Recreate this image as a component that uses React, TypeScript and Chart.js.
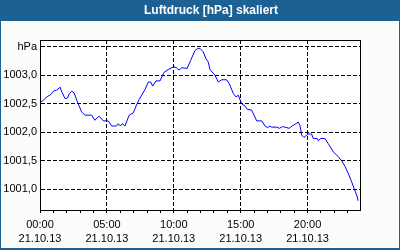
import React, { useEffect, useRef } from "react";
import { Chart, registerables } from "chart.js";

Chart.register(...registerables);

const TITLE = "Luftdruck [hPa] skaliert";
const DATE_LABEL = "21.10.13";

// time in hours since 00:00 on 21.10.13
const hours = [
  0.0, 0.25, 0.5, 0.8, 1.0, 1.25, 1.5, 1.65, 1.87, 2.05, 2.2, 2.37, 2.55, 2.8, 3.0, 3.1, 3.36, 3.86,
  4.1, 4.3, 4.43, 4.73, 5.1, 5.36, 5.73, 5.85, 6.0, 6.15, 6.35, 6.5, 6.67, 6.97, 7.22, 7.4, 7.6,
  7.85, 8.1, 8.27, 8.42, 8.67, 8.97, 9.27, 9.59, 10.0, 10.2, 10.39, 10.59, 11.0, 11.26, 11.58, 11.8,
  11.96, 12.2, 12.4, 12.58, 12.7, 13.08, 13.33, 13.58, 13.95, 14.15, 14.45, 14.65, 14.82, 15.07,
  15.32, 15.5, 15.82, 16.2, 16.57, 16.82, 17.0, 17.19, 17.3, 17.69, 17.89, 18.14, 18.3, 18.63,
  18.85, 19.06, 19.3, 19.43, 19.56, 19.73, 20.05, 20.3, 20.43, 20.73, 20.8, 20.98, 21.3, 21.55,
  21.92, 22.3, 22.55, 22.8, 23.04, 23.3, 23.47, 23.67, 23.79,
];

const pressure = [
  1002.52, 1002.56, 1002.62, 1002.66, 1002.72, 1002.74, 1002.79, 1002.7, 1002.59, 1002.6, 1002.68,
  1002.72, 1002.69, 1002.53, 1002.42, 1002.36, 1002.3, 1002.3, 1002.21, 1002.26, 1002.28, 1002.2,
  1002.2, 1002.11, 1002.11, 1002.15, 1002.11, 1002.15, 1002.11, 1002.2, 1002.3, 1002.34, 1002.48,
  1002.57, 1002.65, 1002.75, 1002.88, 1002.88, 1002.81, 1002.9, 1002.9, 1003.05, 1003.1, 1003.15,
  1003.13, 1003.09, 1003.13, 1003.12, 1003.26, 1003.43, 1003.47, 1003.47, 1003.41, 1003.29,
  1003.23, 1003.1, 1003.0, 1002.88, 1002.92, 1002.92, 1002.85, 1002.68, 1002.62, 1002.65, 1002.5,
  1002.46, 1002.4, 1002.39, 1002.2, 1002.2, 1002.11, 1002.08, 1002.11, 1002.09, 1002.09, 1002.07,
  1002.1, 1002.09, 1002.07, 1002.11, 1002.14, 1002.18, 1002.12, 1001.95, 1001.91, 1001.97,
  1001.97, 1001.89, 1001.89, 1001.85, 1001.89, 1001.89, 1001.8, 1001.66, 1001.57, 1001.5, 1001.4,
  1001.28, 1001.13, 1001.02, 1000.9, 1000.8,
];

const xMajorHours = [0, 5, 10, 15, 20];
const xMajorLabels = ["00:00", "05:00", "10:00", "15:00", "20:00"];
const xMinorHours = [
  0, 1, 2, 3, 4, 5, 6, 7, 8, 9, 10, 11, 12, 13, 14, 15, 16, 17, 18, 19, 20, 21, 22, 23,
];
const yTickValues = [1001.0, 1001.5, 1002.0, 1002.5, 1003.0, 1003.5];
const yTickLabels = ["1001,0", "1001,5", "1002,0", "1002,5", "1003,0", "hPa"];

const X_MIN = 0;
const X_MAX = 23.92;
const Y_MIN = 1000.638;
const Y_MAX = 1003.617;

const FONT = "'Liberation Sans', Arial, sans-serif";

const framePlugin = {
  id: "frame",
  beforeDraw(chart: any) {
    const { ctx, width, height, chartArea } = chart;
    ctx.save();
    ctx.fillStyle = "#1c6094";
    ctx.fillRect(0, 0, width, height);
    ctx.fillStyle = "#fbfdfb";
    ctx.fillRect(1, 21, width - 2, height - 23);
    ctx.fillStyle = "#ffffff";
    ctx.fillRect(chartArea.left, chartArea.top, chartArea.right - chartArea.left, chartArea.bottom - chartArea.top);
    ctx.fillStyle = "#ffffff";
    ctx.font = `bold 12px ${FONT}`;
    ctx.textAlign = "center";
    ctx.textBaseline = "middle";
    ctx.fillText(TITLE, 211, 10.5);
    ctx.restore();
  },
  afterDraw(chart: any) {
    const { ctx, chartArea } = chart;
    ctx.save();
    ctx.strokeStyle = "#000000";
    ctx.lineWidth = 1;
    ctx.setLineDash([]);
    ctx.strokeRect(
      Math.round(chartArea.left) + 0.5,
      Math.round(chartArea.top) + 0.5,
      Math.round(chartArea.right - chartArea.left),
      Math.round(chartArea.bottom - chartArea.top)
    );
    ctx.restore();
  },
};

export default function App() {
  const ref = useRef<HTMLCanvasElement | null>(null);

  useEffect(() => {
    if (!ref.current) return;
    const chart = new Chart(ref.current, {
      type: "line",
      data: {
        datasets: [
          {
            data: hours.map((h, i) => ({ x: h, y: pressure[i] })),
            borderColor: "#0000ff",
            borderWidth: 1,
            pointRadius: 0,
            tension: 0,
            fill: false,
          },
        ],
      },
      options: {
        animation: false,
        responsive: false,
        devicePixelRatio: 1,
        layout: { padding: { top: 40, right: 40, left: 0, bottom: 0 } },
        plugins: { legend: { display: false }, tooltip: { enabled: false }, title: { display: false } },
        scales: {
          x: {
            type: "linear",
            min: X_MIN,
            max: X_MAX,
            afterBuildTicks: (scale: any) => {
              scale.ticks = xMinorHours.map((v) => ({ value: v }));
            },
            afterFit: (scale: any) => {
              scale.height = 40;
            },
            ticks: {
              autoSkip: false,
              maxRotation: 0,
              minRotation: 0,
              padding: 5,
              color: "#000000",
              font: { family: FONT, size: 11, lineHeight: 1.27 },
              callback: (value: any) => {
                const idx = xMajorHours.indexOf(Number(value));
                return idx >= 0 ? [xMajorLabels[idx], DATE_LABEL] : "";
              },
            },
            grid: {
              color: (ctx: any) =>
                ctx.tick && xMajorHours.indexOf(ctx.tick.value) >= 0 ? "#000000" : "rgba(0,0,0,0)",
              tickColor: "#000000",
              tickLength: 3,
              lineWidth: 1,
            },
            border: { display: true, color: "#000000", width: 1, dash: [4, 2] },
          },
          y: {
            type: "linear",
            min: Y_MIN,
            max: Y_MAX,
            afterBuildTicks: (scale: any) => {
              scale.ticks = yTickValues.map((v) => ({ value: v }));
            },
            afterFit: (scale: any) => {
              scale.width = 40;
            },
            ticks: {
              padding: 3,
              color: "#000000",
              font: { family: FONT, size: 11 },
              callback: (value: any) => {
                const idx = yTickValues.indexOf(Number(value));
                return idx >= 0 ? yTickLabels[idx] : "";
              },
            },
            grid: { color: "#000000", drawTicks: false, lineWidth: 1 },
            border: { display: true, color: "#000000", width: 1, dash: [4, 2] },
          },
        },
      },
      plugins: [framePlugin],
    });
    return () => chart.destroy();
  }, []);

  return (
    <div style={{ position: "absolute", left: 0, top: 0, width: 400, height: 250 }}>
      <canvas ref={ref} width={400} height={250} style={{ display: "block" }} />
    </div>
  );
}
